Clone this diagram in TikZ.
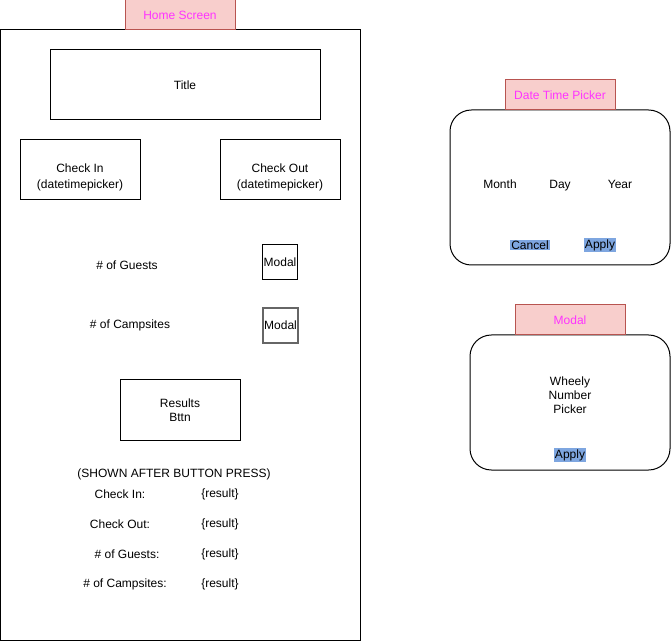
\documentclass[tikz,border=0pt]{standalone}
\usepackage{fontspec}
\setmainfont{Liberation Sans}
\usetikzlibrary{positioning}
\definecolor{tabfill}{HTML}{F8CECC}
\definecolor{tabdraw}{HTML}{B85450}
\definecolor{tabtext}{HTML}{FF33FF}
\definecolor{btnfill}{HTML}{7EA6E0}
\tikzset{
  uibox/.style={draw=black, line width=0.75pt, fill=white, align=center,
    inner sep=0pt, font=\fontsize{9}{10.5}\selectfont},
  uitab/.style={fill=tabfill, draw=tabdraw, line width=0.75pt, text=tabtext,
    minimum width=82.5pt, minimum height=22.5pt, inner sep=0pt,
    font=\fontsize{9}{10.5}\selectfont},
  uipanel/.style={uibox, rounded corners=16pt},
  uitext/.style={font=\fontsize{9}{10.5}\selectfont, align=center, inner sep=0pt},
  uibtn/.style={uitext, fill=btnfill, inner sep=0.8pt},
  uimodal/.style={uibox, minimum width=26.25pt, minimum height=26.25pt},
}
\begin{document}
\begin{tikzpicture}[x=0.75pt,y=-0.75pt]
  \useasboundingbox (0,0) rectangle (671,641);
  % Startbildschirm
  \node[uibox, minimum width=270pt, minimum height=457.5pt] (home) at (180,335) {};
  \node[uitab] (hometab) at (180,15) {Home Screen};
  \node[uibox, minimum width=202.5pt, minimum height=52.5pt] (title) at (185,85) {Title};
  \node[uibox, minimum width=90pt, minimum height=45pt] (checkin) at (80,170) {};
  \node[uitext, font=\fontsize{9}{12}\selectfont] (checkintxt) at (80,177) {Check In\\(datetimepicker)};
  \node[uibox, minimum width=90pt, minimum height=45pt] (checkout) at (280,170) {};
  \node[uitext, font=\fontsize{9}{12}\selectfont] (checkouttxt) at (280,177) {Check Out\\(datetimepicker)};
  \node[uitext] (guests) at (127,265) {\# of Guests};
  \node[uimodal] (modalguests) at (280,262.5) {Modal};
  \node[uitext] (sites) at (130,325) {\# of Campsites};
  \node[uimodal, draw=black!60, line width=1.5pt] (modalsites) at (280.5,325.5) {Modal};
  \node[uibox, minimum width=90pt, minimum height=45pt] (results) at (180,410) {Results\\Bttn};
  \node[uitext] (shown) at (174,474) {(SHOWN AFTER BUTTON PRESS)};
  \foreach \y/\x/\lbl in {494/120/Check In:,524/120/Check Out:,554/127/\# of Guests:,584/125/\# of Campsites:} {
    \node[uitext] (lbl\y) at (\x,\y) {\lbl};
    \node[uitext] (res\y) at (220,\y) {\{result\}};
  }
  % Datumsauswahl
  \node[uipanel, minimum width=165pt, minimum height=116.25pt] (dtp) at (560,187.5) {};
  \node[uitab] (dtptab) at (560,95) {Date Time Picker};
  \foreach \x/\part in {500/Month,560/Day,620/Year} {
    \node[uitext, anchor=base] (\part) at (\x,189) {\part};
  }
  \node[uibtn] (cancel) at (530,245) {Cancel};
  \node[uibtn] (dtpapply) at (600,245) {Apply};
  % Modal
  \node[uipanel, minimum width=150pt, minimum height=101.25pt] (modal) at (570,402.5) {};
  \node[uitab] (modaltab) at (570,320) {Modal};
  \node[uitext] (wheely) at (570,395) {Wheely\\Number\\Picker};
  \node[uibtn] (modalapply) at (570,455) {Apply};
\end{tikzpicture}
\end{document}
